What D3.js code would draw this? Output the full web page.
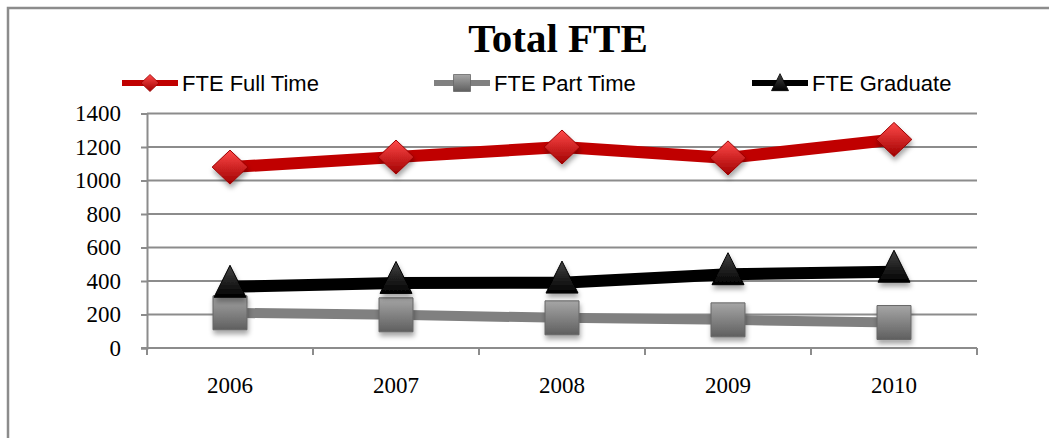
<!DOCTYPE html>
<html>
<head>
<meta charset="utf-8">
<script src="https://cdn.jsdelivr.net/npm/d3@7"></script>
<style>
  html, body { margin: 0; padding: 0; background: #fff; }
  svg { display: block; }
</style>
</head>
<body>
<svg id="chart" width="1049" height="438"></svg>
<script>
// chart data
const years = ["2006", "2007", "2008", "2009", "2010"]
const fullTime = [1080, 1140, 1200, 1135, 1245]
const partTime = [210, 198, 180, 168, 152]
const graduate = [365, 388, 390, 440, 455]
const yTicks = [0, 200, 400, 600, 800, 1000, 1200, 1400]

const series = [
    {name: "FTE Full Time", values: fullTime, color: "#c00000", width: 12, marker: "diamond"},
    {name: "FTE Part Time", values: partTime, color: "#808080", width: 10, marker: "square"},
    {name: "FTE Graduate", values: graduate, color: "#000000", width: 12, marker: "triangle"}
]

const svg = d3.select("#chart")
const plotL = 147, plotR = 977, plotT = 113.5, plotB = 348
const serif = "'Liberation Serif', 'DejaVu Serif', serif"
const sans = "'Liberation Sans', Arial, sans-serif"

// gradients + shadow for the bevelled markers
const defs = svg.append("defs")
const grads = {diamond: ["#ff4a4a", "#a00000"], square: ["#a6a6a6", "#5f5f5f"], triangle: ["#444", "#000"]}
Object.entries(grads).forEach(([k, c]) => {
    const g = defs.append("linearGradient").attr("id", "g-" + k)
        .attr("x1", 0).attr("y1", 0).attr("x2", 0).attr("y2", 1)
    g.append("stop").attr("offset", "0%").attr("stop-color", c[0])
    g.append("stop").attr("offset", "100%").attr("stop-color", c[1])
})
defs.append("filter").attr("id", "shadow").attr("x", "-50%").attr("y", "-50%").attr("width", "200%").attr("height", "200%")
    .append("feDropShadow").attr("dx", 1).attr("dy", 4).attr("stdDeviation", 2.5)
    .attr("flood-color", "#000").attr("flood-opacity", 0.35)

// chart frame
svg.append("path")
    .attr("d", "M8,438 L8,8 L1049,8")
    .attr("fill", "none").attr("stroke", "#8c8c8c").attr("stroke-width", 2.5)

// title
svg.append("text")
    .attr("x", 558).attr("y", 52)
    .attr("text-anchor", "middle")
    .attr("font-family", serif).attr("font-weight", "bold").attr("font-size", 41)
    .text("Total FTE")

const x = d3.scaleBand().domain(years).range([plotL, plotR])
const y = d3.scaleLinear().domain([0, 1400]).range([plotB, plotT])

// gridlines
svg.append("g")
    .selectAll("line").data(yTicks.filter(d => d > 0)).join("line")
    .attr("x1", plotL).attr("x2", plotR)
    .attr("y1", d => y(d)).attr("y2", d => y(d))
    .attr("stroke", "#8c8c8c").attr("stroke-width", 2)

// y axis
const yAxis = svg.append("g")
    .attr("transform", `translate(${plotL},0)`)
    .call(d3.axisLeft(y).tickValues(yTicks).tickSize(6).tickPadding(20).tickFormat(d3.format("d")))
yAxis.selectAll("path, line").attr("stroke", "#8c8c8c").attr("stroke-width", 2)
yAxis.selectAll("text").attr("font-family", serif).attr("font-size", 23).attr("fill", "#000")

// x axis: ticks at category boundaries
const xAxis = svg.append("g").attr("transform", `translate(0,${plotB})`)
xAxis.append("line").attr("x1", plotL - 6).attr("x2", plotR).attr("stroke", "#8c8c8c").attr("stroke-width", 2)
xAxis.selectAll(".bt").data(years.concat(["end"])).join("line")
    .attr("x1", (d, i) => plotL + i * x.bandwidth()).attr("x2", (d, i) => plotL + i * x.bandwidth())
    .attr("y1", 0).attr("y2", 7)
    .attr("stroke", "#8c8c8c").attr("stroke-width", 2)
xAxis.selectAll("text").data(years).join("text")
    .attr("x", d => x(d) + x.bandwidth() / 2).attr("y", 45)
    .attr("text-anchor", "middle")
    .attr("font-family", serif).attr("font-size", 23)
    .text(d => d)

const cx = d => x(d) + x.bandwidth() / 2

const markerPath = (type, s) => {
    if (type === "diamond") return `M0,${-s} L${s * 1.05},0 L0,${s} L${-s * 1.05},0 Z`
    if (type === "square") return `M${-s},${-s} L${s},${-s} L${s},${s} L${-s},${s} Z`
    return `M0,${-s * 1.1} L${s},${s * 0.9} L${-s},${s * 0.9} Z`
}

const line = d3.line().x(d => cx(d.year)).y(d => y(d.value))

// draw part time first so graduate and full time sit on top
const drawOrder = [series[1], series[2], series[0]]
drawOrder.forEach(s => {
    const pts = years.map((yr, i) => ({year: yr, value: s.values[i]}))
    svg.append("path").datum(pts)
        .attr("fill", "none").attr("stroke", s.color).attr("stroke-width", s.width)
        .attr("stroke-linejoin", "round")
        .attr("d", line)
})
drawOrder.forEach(s => {
    const pts = years.map((yr, i) => ({year: yr, value: s.values[i]}))
    const size = s.marker === "triangle" ? 16 : 17
    svg.append("g").selectAll("path").data(pts).join("path")
        .attr("transform", d => `translate(${cx(d.year)},${y(d.value) + (s.marker === "triangle" ? -4 : 0)})`)
        .attr("d", markerPath(s.marker, size))
        .attr("fill", `url(#g-${s.marker})`)
        .attr("stroke", d3.color(s.color).darker(0.6))
        .attr("stroke-width", 1)
        .attr("filter", "url(#shadow)")
})

// legend
const legendX = [122, 434, 752]
const legend = svg.append("g")
series.forEach((s, i) => {
    const g = legend.append("g").attr("transform", `translate(${legendX[i]},83)`)
    g.append("line").attr("x1", 0).attr("x2", 56)
        .attr("stroke", s.color).attr("stroke-width", 6)
    g.append("path")
        .attr("transform", "translate(28,0)")
        .attr("d", markerPath(s.marker, 8.5))
        .attr("fill", `url(#g-${s.marker})`)
        .attr("stroke", d3.color(s.color).darker(0.6)).attr("stroke-width", 0.8)
    g.append("text")
        .attr("x", 60).attr("y", 8)
        .attr("font-family", sans).attr("font-size", 22)
        .text(s.name)
})
</script>
</body>
</html>
